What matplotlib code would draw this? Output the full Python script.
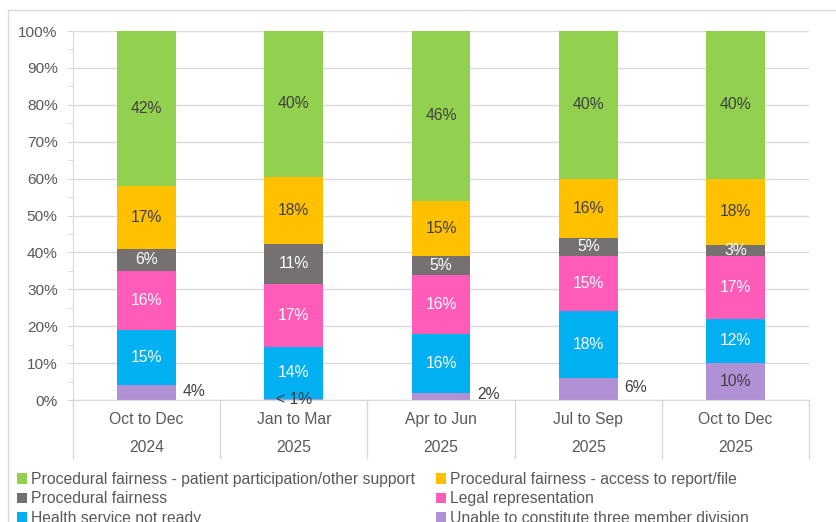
import matplotlib.pyplot as plt
from matplotlib.patches import Rectangle
from matplotlib.transforms import blended_transform_factory
from matplotlib.ticker import MultipleLocator, PercentFormatter

plt.rcParams["font.family"] = ["Liberation Sans", "DejaVu Sans"]

quarters = ["Oct to Dec", "Jan to Mar", "Apr to Jun", "Jul to Sep", "Oct to Dec"]
years = ["2024", "2025", "2025", "2025", "2025"]

# stacked bottom -> top, share of matters (%)
unable_division = [4, 0.4, 2, 6, 10]
health_not_ready = [15, 14, 16, 18, 12]
legal_rep = [16, 17, 16, 15, 17]
proc_fairness = [6, 11, 5, 5, 3]
proc_access = [17, 18, 15, 16, 18]
proc_participation = [42, 40, 46, 40, 40]

series = [
    ("Unable to constitute three member division", unable_division, "#B191D5", "#404040"),
    ("Health service not ready", health_not_ready, "#00B0F0", "white"),
    ("Legal representation", legal_rep, "#FF5BB9", "white"),
    ("Procedural fairness", proc_fairness, "#767171", "white"),
    ("Procedural fairness - access to report/file", proc_access, "#FFC000", "#404040"),
    ("Procedural fairness - patient participation/other support", proc_participation, "#92D050", "#404040"),
]

TXT = "#595959"
GRID = "#D9D9D9"
FS = 11.3

fig = plt.figure(figsize=(8.37, 5.22), dpi=100)
ax = fig.add_axes([73 / 837, 1 - 400 / 522, 736 / 837, 369 / 522])

x = list(range(len(quarters)))
width = 0.4
bottoms = [0.0] * len(x)
handles = {}
for name, vals, color, tcol in series:
    bars = ax.bar(x, vals, width=width, bottom=bottoms, color=color, zorder=2)
    handles[name] = bars
    for xi, b, v in zip(x, bottoms, vals):
        if v < 1:
            ax.text(xi, b, "< 1%", ha="center", va="center", fontsize=FS, color="#404040", zorder=4)
        elif v < 8 and name.startswith("Unable"):
            # small slices get their label beside the bar
            ax.text(xi + width / 2 + 0.045, b + v / 2 + 0.4, f"{v:.0f}%", ha="left", va="center",
                    fontsize=FS, color="#404040", zorder=4)
        else:
            ax.text(xi, b + v / 2, f"{v:.0f}%", ha="center", va="center", fontsize=FS, color=tcol, zorder=4)
    bottoms = [b + v for b, v in zip(bottoms, vals)]

ax.set_xlim(-0.5, len(x) - 0.5)
ax.set_ylim(0, 100)
ax.yaxis.set_major_locator(MultipleLocator(10))
ax.yaxis.set_minor_locator(MultipleLocator(5))
ax.yaxis.set_major_formatter(PercentFormatter(decimals=0))
ax.tick_params(axis="y", which="both", length=4, color=GRID, labelsize=11.1, labelcolor=TXT, pad=7)
ax.set_xticks([])
ax.grid(True, axis="y", color=GRID, linewidth=1, zorder=0)
for side in ["top", "right"]:
    ax.spines[side].set_visible(False)
ax.spines["left"].set_color(GRID)
ax.spines["bottom"].set_color(GRID)

# two-level category axis
trans = blended_transform_factory(ax.transData, ax.transAxes)
for i in range(len(x) + 1):
    ax.plot([i - 0.5, i - 0.5], [0, -58 / 369], color=GRID, linewidth=1, transform=trans, clip_on=False)
for xi, q, yr in zip(x, quarters, years):
    ax.text(xi, -19.5 / 369, q, transform=trans, ha="center", va="center", fontsize=FS, color=TXT)
    ax.text(xi, -48 / 369, yr, transform=trans, ha="center", va="center", fontsize=FS, color=TXT)

# outer chart border (runs off the right and bottom like the source)
fig.patches.append(Rectangle((8 / 837, -0.2), 1.2, 0.2 + 1 - 10 / 522, transform=fig.transFigure,
                             fill=False, edgecolor=GRID, linewidth=1))

order = [
    "Procedural fairness - patient participation/other support",
    "Procedural fairness",
    "Health service not ready",
    "Procedural fairness - access to report/file",
    "Legal representation",
    "Unable to constitute three member division",
]
leg = fig.legend([handles[n] for n in order], order, ncols=2, loc="upper left",
                 bbox_to_anchor=(17 / 837, 1 - 472 / 522), frameon=False, fontsize=11.35,
                 handlelength=0.65, handleheight=0.65, handletextpad=0.25, columnspacing=1.3,
                 labelspacing=0.28, borderpad=0, borderaxespad=0)
for t in leg.get_texts():
    t.set_color(TXT)

fig.savefig("out.png", dpi=100)
